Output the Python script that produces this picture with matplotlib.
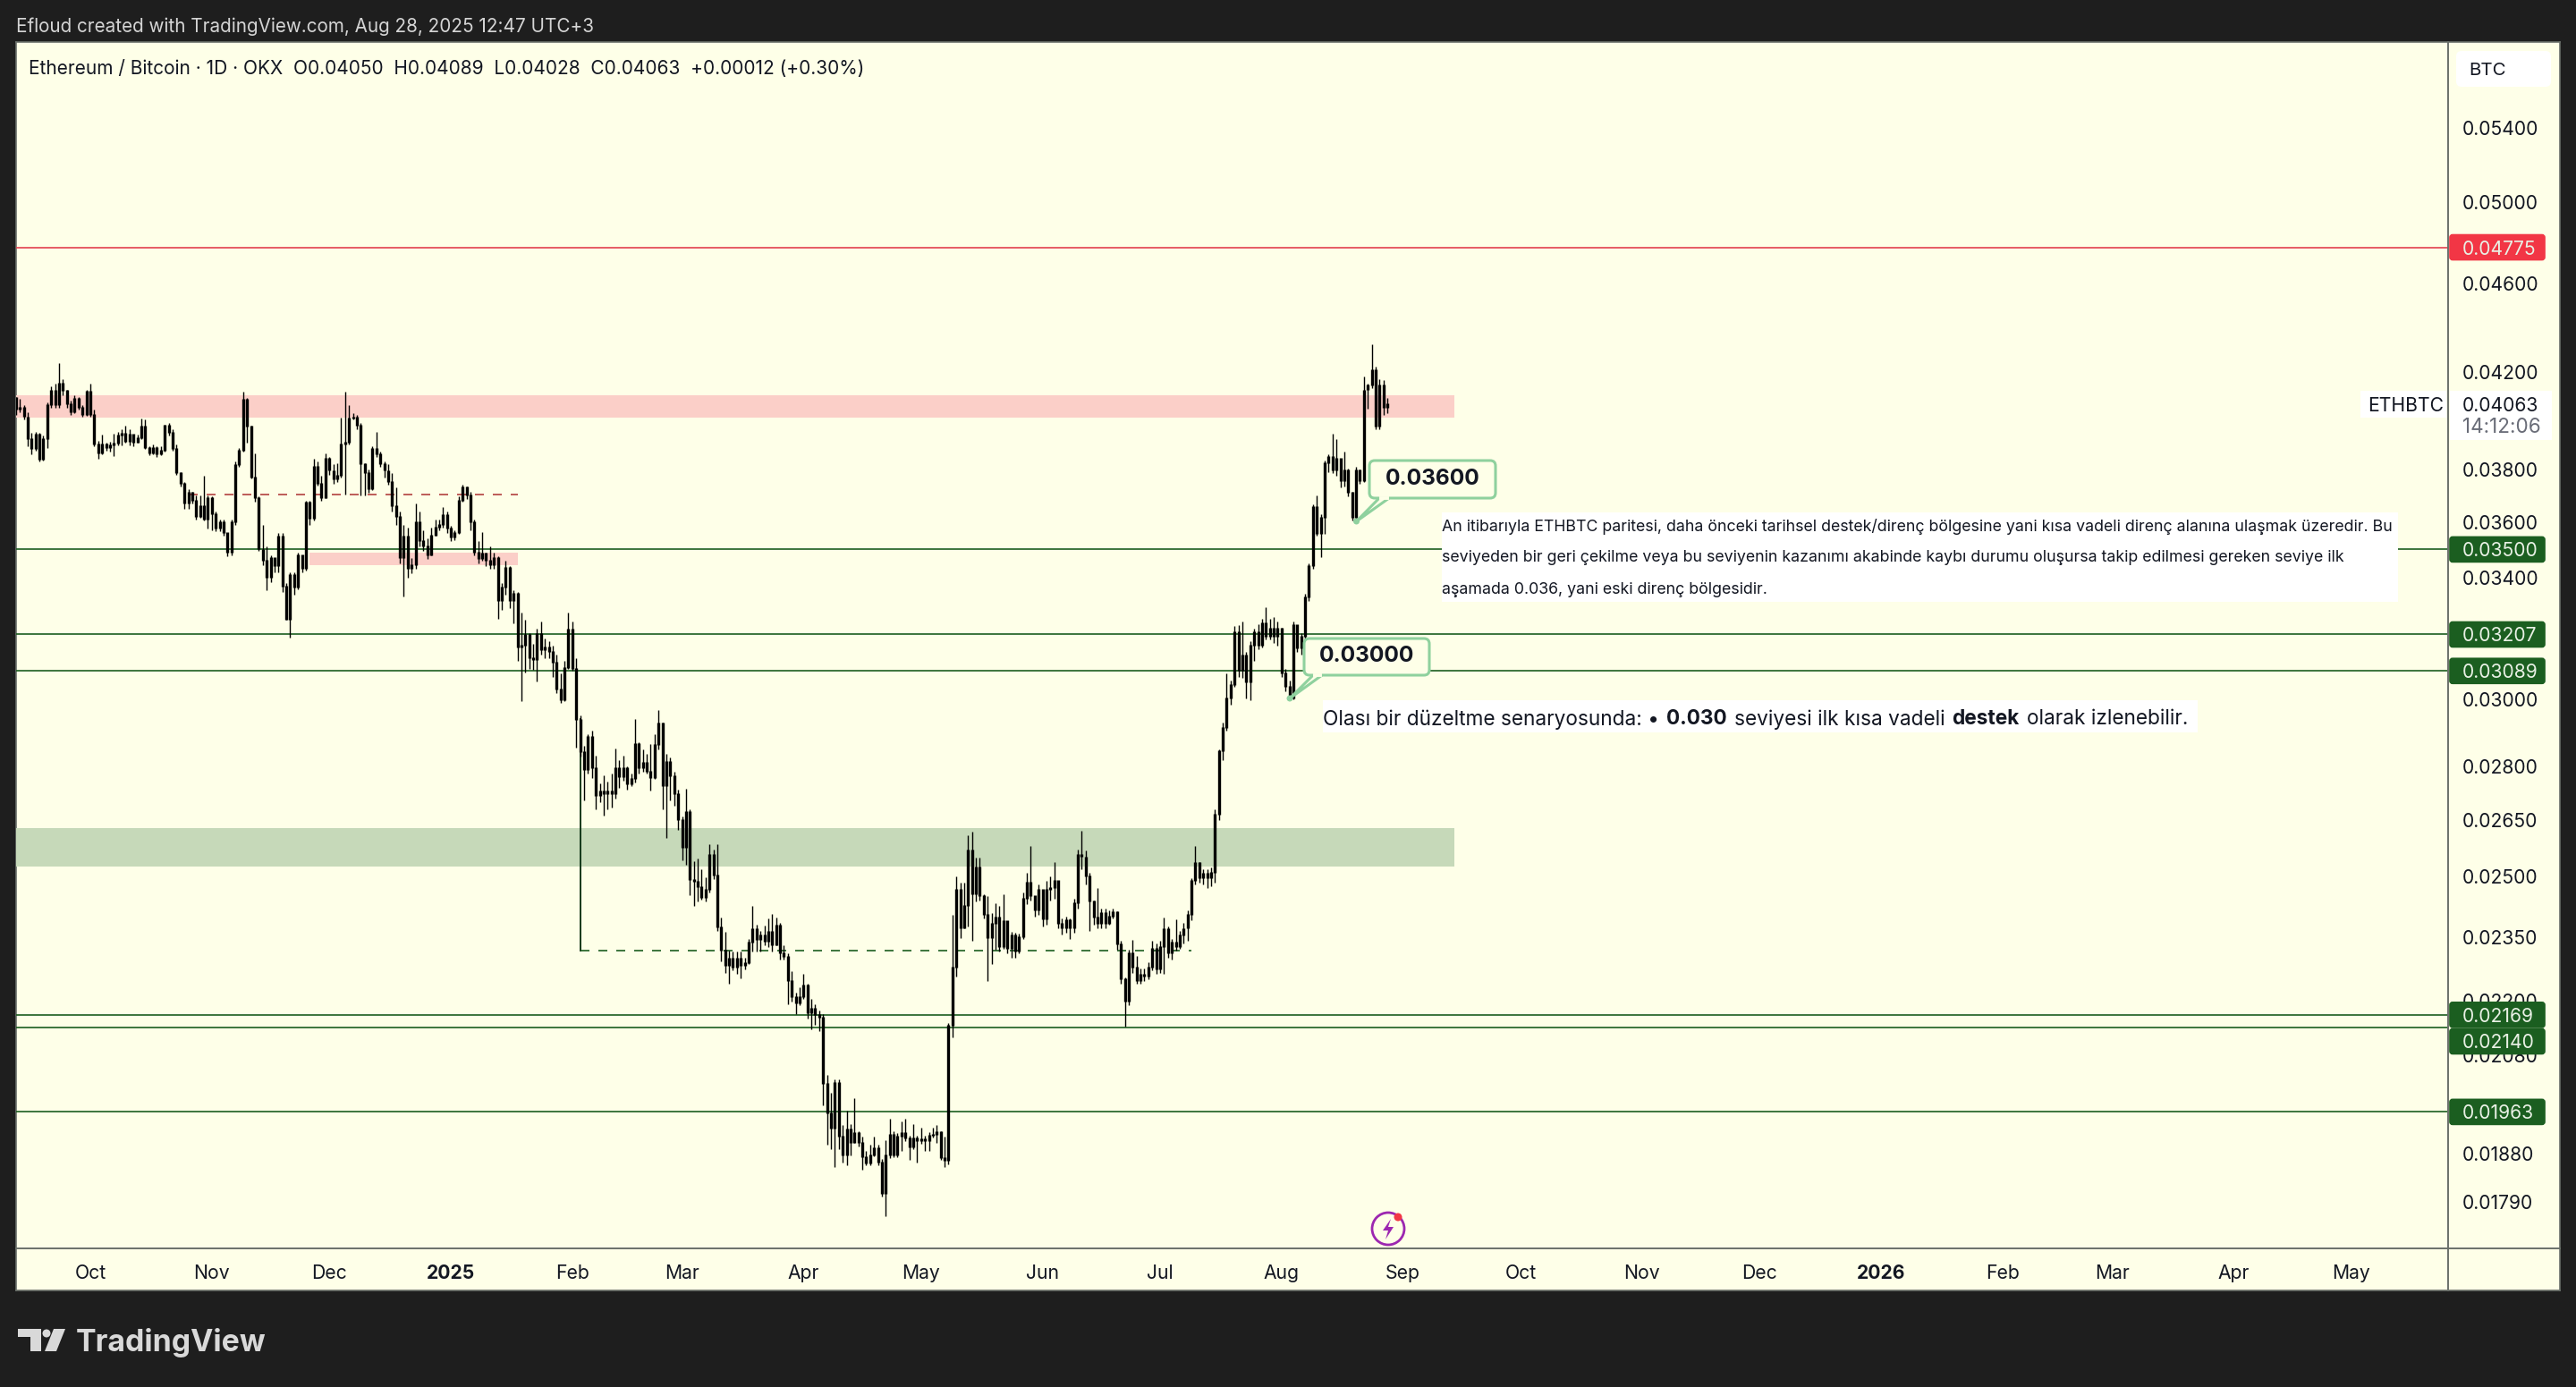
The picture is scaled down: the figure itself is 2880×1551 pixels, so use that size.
import numpy as np
import pandas as pd
import matplotlib
matplotlib.use("Agg")
import matplotlib.pyplot as plt
import matplotlib.dates as mdates
from matplotlib.patches import Rectangle, FancyBboxPatch, Polygon, Circle

plt.rcParams['font.family'] = ['Inter', 'DejaVu Sans']

# daily candles, in 1e-5 BTC, last one is 2025-08-28
first_open = 4090
closes = [
    4040,4050,4010,3920,3880,3940,3840,3920,4060,4120,
    4060,4150,4120,4065,4030,4085,4050,4020,4115,4020,
    3900,3865,3900,3885,3895,3904,3935,3942,3910,3940,
    3905,3925,3970,3885,3865,3885,3860,3875,3975,3945,
    3880,3785,3745,3670,3710,3680,3620,3660,3610,3690,
    3630,3575,3600,3560,3490,3600,3818,3875,4082,3970,3770,
    3690,3500,3460,3400,3470,3440,3547,3370,3255,3410,
    3365,3480,3430,3673,3613,3811,3745,3690,3842,3795,
    3760,3775,3900,3905,4005,4010,3975,3820,3785,
    3725,3880,3860,3820,3795,3750,3660,3620,3470,3547,
    3430,3445,3600,3530,3510,3480,3550,3580,3590,3625,
    3575,3545,3560,3680,3730,3700,3600,3490,3465,3485,
    3460,3445,3470,3320,3365,3435,3320,3345,3165,3170,
    3205,3130,3125,3210,3155,3165,3150,3115,3030,2998,
    3098,3225,3095,2937,2842,2790,2887,2796,2717,2730,
    2722,2730,2722,2796,2770,2796,2750,2765,2866,2796,
    2811,2785,2767,2863,2926,2745,2814,2772,2722,2651,
    2576,2673,2492,2488,2473,2446,2466,2557,2504,2374,
    2318,2281,2298,2277,2298,2281,2288,2336,2369,2342,
    2354,2338,2363,2330,2378,2311,2303,2246,2209,2195,
    2209,2236,2173,2183,2169,2163,2020,1960,1929,2023,
    1914,1877,1929,1902,1921,1902,1874,1861,1877,1892,
    1864,1804,1877,1918,1877,1914,1921,1910,1892,1910,
    1905,1908,1905,1915,1918,1922,1872,1866,2145,2277,
    2466,2370,2427,2569,2455,2524,2450,2404,2347,2382,
    2398,2326,2388,2321,2354,2316,2350,2444,2484,2450,
    2414,2466,2393,2466,2471,2490,2382,2370,2390,2372,
    2432,2557,2551,2501,2438,2398,2382,2409,2382,2400,
    2410,2332,2250,2199,2311,2277,2246,2261,2257,2277,
    2321,2272,2326,2370,2311,2336,2326,2354,2370,2404,
    2490,2537,2497,2509,2497,2510,2665,2845,2913,3003,
    3046,3214,3090,3140,3053,3170,3214,3170,3244,3199,
    3228,3199,3228,3081,3040,3003,3238,3161,3199,3332,
    3440,3657,3557,3616,3825,3851,3797,3842,3753,3797,
    3710,3616,3797,3753,4122,4143,4210,3971,4143,4050,4063,
]
highs = [
    4095,4085,4060,4030,3945,3950,3945,3935,4070,4140,
    4150,4240,4170,4125,4080,4100,4095,4060,4125,4150,
    4040,3915,3940,3905,3910,3942,3950,3960,3975,3960,
    3925,3940,4004,4000,3890,3900,3890,3890,3980,3985,
    3960,3900,3790,3750,3725,3715,3700,3700,3776,3700,
    3695,3640,3610,3610,3560,3610,3830,3885,4116,4090,3975,
    3864,3695,3590,3510,3480,3465,3560,3560,3380,3420,
    3420,3490,3480,3680,3680,3842,3830,3775,3865,3850,
    3820,3825,4008,4116,4060,4025,4020,3985,3825,
    3800,3890,3949,3870,3830,3820,3785,3730,3640,3590,
    3580,3470,3670,3640,3570,3540,3580,3610,3610,3655,
    3640,3585,3570,3695,3740,3735,3715,3610,3530,3564,
    3490,3510,3490,3475,3380,3460,3440,3355,3350,3280,
    3256,3212,3175,3225,3250,3195,3185,3170,3140,3080,
    3122,3280,3250,3130,2950,2860,2895,2905,2832,2752,
    2775,2757,2780,2853,2819,2832,2800,2780,2940,2870,
    2850,2837,2866,2895,2967,2930,2837,2825,2785,2735,
    2660,2737,2680,2540,2548,2520,2499,2585,2570,2585,
    2398,2363,2318,2315,2315,2315,2300,2345,2426,2380,
    2365,2378,2395,2406,2398,2385,2330,2310,2268,2220,
    2232,2262,2240,2205,2192,2178,2170,2040,2002,2030,
    2030,1937,1965,1939,1991,1925,1914,1886,1898,1914,
    1898,1871,1906,1950,1925,1921,1944,1950,1915,1939,
    1915,1932,1915,1922,1932,1936,1925,1914,2150,2404,
    2501,2484,2484,2608,2619,2550,2550,2455,2450,2409,
    2432,2427,2455,2360,2362,2360,2358,2460,2510,2580,
    2450,2480,2425,2490,2500,2537,2470,2395,2400,2395,
    2445,2570,2622,2569,2510,2440,2471,2420,2420,2415,
    2420,2412,2340,2255,2320,2343,2305,2275,2275,2290,
    2340,2335,2340,2398,2375,2345,2393,2365,2385,2415,
    2497,2580,2530,2520,2520,2525,2680,2850,2930,3081,
    3060,3235,3238,3250,3150,3185,3225,3240,3260,3298,
    3260,3265,3250,3205,3095,3060,3250,3238,3210,3345,
    3450,3665,3700,3630,3835,3860,3942,3920,3800,3870,
    3805,3715,3810,3800,4180,4150,4321,4225,4170,4166,4089,
]
lows = [
    4020,4030,4000,3890,3860,3875,3830,3835,3885,4050,
    4050,4050,4100,4050,4020,4025,4040,4010,4015,4010,
    3890,3842,3860,3875,3870,3853,3895,3895,3905,3895,
    3890,3905,3920,3880,3855,3860,3850,3855,3870,3935,
    3875,3780,3735,3650,3650,3670,3610,3615,3605,3575,
    3570,3565,3565,3550,3475,3480,3590,3810,3870,3905,3765,
    3675,3495,3445,3356,3385,3420,3420,3350,3255,3196,
    3340,3360,3420,3425,3590,3605,3738,3680,3695,3780,
    3745,3750,3770,3704,3900,4000,3960,3700,3700,
    3710,3720,3850,3810,3770,3740,3640,3590,3450,3335,
    3400,3415,3430,3510,3495,3465,3500,3555,3570,3580,
    3560,3530,3535,3555,3675,3685,3570,3480,3450,3460,
    3440,3430,3430,3259,3290,3340,3295,3245,3120,2995,
    3085,3095,3093,3056,3140,3130,3130,3070,3020,2990,
    2995,3095,3090,2855,2830,2704,2780,2767,2680,2700,
    2663,2680,2685,2710,2740,2760,2735,2745,2755,2780,
    2785,2780,2732,2765,2850,2680,2602,2704,2690,2624,
    2543,2530,2452,2426,2437,2442,2437,2460,2495,2365,
    2292,2265,2240,2270,2263,2253,2273,2285,2315,2315,
    2315,2330,2325,2315,2330,2296,2296,2192,2199,2171,
    2190,2205,2161,2137,2147,2133,1977,1898,1889,1855,
    1889,1864,1859,1877,1906,1895,1849,1858,1859,1875,
    1859,1800,1764,1872,1874,1874,1886,1905,1868,1890,
    1864,1900,1886,1886,1912,1902,1868,1855,1860,2120,
    2257,2347,2390,2376,2340,2438,2440,2395,2246,2285,
    2320,2315,2321,2311,2300,2300,2310,2345,2430,2440,
    2400,2405,2375,2380,2440,2445,2370,2355,2360,2345,
    2360,2420,2520,2480,2365,2380,2370,2370,2370,2380,
    2395,2320,2240,2143,2190,2265,2240,2240,2245,2250,
    2270,2262,2265,2262,2300,2295,2318,2322,2335,2340,
    2390,2480,2485,2480,2471,2475,2485,2650,2819,2905,
    2985,3040,3070,3068,3003,2998,3120,3160,3165,3190,
    3190,3180,3170,3070,3025,2998,3000,3150,3140,3190,
    3320,3430,3550,3472,3555,3790,3785,3775,3730,3735,
    3695,3605,3600,3745,3750,4045,4130,3960,3960,4020,4028,
]

price_ticks = [0.054, 0.05, 0.046, 0.042, 0.038, 0.036, 0.034, 0.03, 0.028, 0.0265,
               0.025, 0.0235, 0.022, 0.0208, 0.0196, 0.0188, 0.0179]
month_dates = ['2024-10-01', '2024-11-01', '2024-12-01', '2025-01-01', '2025-02-01', '2025-03-01',
               '2025-04-01', '2025-05-01', '2025-06-01', '2025-07-01', '2025-08-01', '2025-09-01',
               '2025-10-01', '2025-11-01', '2025-12-01', '2026-01-01', '2026-02-01', '2026-03-01',
               '2026-04-01', '2026-05-01']
month_labels = ['Oct', 'Nov', 'Dec', '2025', 'Feb', 'Mar', 'Apr', 'May', 'Jun', 'Jul', 'Aug', 'Sep',
                'Oct', 'Nov', 'Dec', '2026', 'Feb', 'Mar', 'Apr', 'May']
green_levels = [0.035, 0.03207, 0.03089, 0.02169, 0.0214, 0.01963]
red_level = 0.04775

BG = '#1e1e1e'
PANE = '#feffe8'
GREEN = '#1b5e20'
CALLOUT = '#8fd19e'
BORDER = '#6a706a'
W, H = 2880, 1551

closes = np.array(closes) / 1e5
highs = np.array(highs) / 1e5
lows = np.array(lows) / 1e5
opens = np.r_[first_open / 1e5, closes[:-1]]
highs = np.maximum(highs, np.maximum(opens, closes))
lows = np.minimum(lows, np.minimum(opens, closes))
dates = mdates.date2num(pd.date_range(end='2025-08-28', periods=len(closes), freq='D'))


def num(day):
    return mdates.date2num(pd.Timestamp(day))


fig = plt.figure(figsize=(W / 200, H / 200), dpi=200, facecolor=BG)

# pane background incl. both axis strips
back = fig.add_axes([18 / W, 1 - 1443 / H, (2862 - 18) / W, (1443 - 47) / H], facecolor=PANE)
back.set_xticks([])
back.set_yticks([])
for s in back.spines.values():
    s.set_color(BORDER)
    s.set_linewidth(0.6)

ax = fig.add_axes([18 / W, 1 - 1396 / H, (2737 - 18) / W, (1396 - 47) / H])
ax.patch.set_alpha(0)
ax.set_yscale('log')
ax.set_ylim(0.01706, 0.05897)
ax.set_xlim(num('2024-10-01') - 18.95, num('2024-10-01') + 601.7)
for side in ['top', 'left']:
    ax.spines[side].set_visible(False)
for side in ['right', 'bottom']:
    ax.spines[side].set_color(BORDER)
    ax.spines[side].set_linewidth(0.7)

# zones
zone_end = (num('2025-09-14') - ax.get_xlim()[0]) / np.ptp(ax.get_xlim())
ax.axhspan(0.04008, 0.04101, xmax=zone_end, color='#fbcfc8', lw=0, zorder=1)
ax.axhspan(0.02527, 0.02629, xmax=zone_end, color='#c6d9b9', lw=0, zorder=1)
ax.fill_between([num('2024-11-26'), num('2025-01-18')], 0.03443, 0.03488, color='#fbcfc8', lw=0, zorder=1)

# levels
ax.axhline(red_level, color='#e2404f', lw=0.6, zorder=2)
for level in green_levels:
    ax.axhline(level, color=GREEN, lw=0.6, zorder=2)
ax.plot([num('2024-10-26'), num('2025-01-18')], [0.03704, 0.03704], color='#b2413f', lw=0.6, ls=(0, (6, 6)), zorder=2)
ax.plot([num('2025-02-03'), num('2025-02-03')], [0.02318, 0.0294], color='#14381a', lw=0.7, zorder=2)
ax.plot([num('2025-02-03'), num('2025-07-09')], [0.02318, 0.02318], color=GREEN, lw=0.6, ls=(0, (6, 6)), zorder=2)

# candles, up and down are both black in the reference
ax.vlines(dates, lows, highs, color='black', lw=0.5, zorder=3)
ax.vlines(dates, np.minimum(opens, closes), np.maximum(opens, closes) * 1.0008, color='black', lw=1.2, zorder=3)

ax.yaxis.tick_right()
ax.minorticks_off()
ax.set_yticks(price_ticks)
ax.set_yticklabels(['%.5f' % p for p in price_ticks], fontsize=7.6, color='#131722')
ax.tick_params(axis='y', which='both', length=0, pad=5.8)
ax.set_xticks([num(d) for d in month_dates])
ax.set_xticklabels(month_labels, fontsize=7.6, color='#131722')
ax.tick_params(axis='x', length=0, pad=6.5)
for lab in ax.get_xticklabels():
    if lab.get_text() in ('2025', '2026'):
        lab.set_fontweight('bold')

# everything that sits on top of the chart, in screen pixels
ov = fig.add_axes([0, 0, 1, 1], zorder=5)
ov.set_xlim(0, W)
ov.set_ylim(H, 0)
ov.axis('off')
ov.patch.set_alpha(0)

ov.plot([2737, 2737], [1396, 1443], color=BORDER, lw=0.7)
ov.plot([2737, 2862], [1396, 1396], color=BORDER, lw=0.7)


def price_y(p):
    return H - ax.transData.transform((dates[0], p))[1]


def badge(p, color, shift=0):
    y = price_y(p) + shift
    ov.add_patch(FancyBboxPatch((2739, y - 14), 106, 28, boxstyle='round,pad=0,rounding_size=3', fc=color, ec=color, lw=0.6))
    ov.text(2753, y, '%.5f' % p, color='#e8f0e4', fontsize=7.6, va='center_baseline')


badge(red_level, '#f23645')
for level in green_levels:
    # the 0.02140 label gets pushed down so it does not sit on 0.02169
    badge(level, GREEN, shift=15 if level == 0.0214 else 0)

# BTC button and last price
ov.add_patch(FancyBboxPatch((2746, 57), 106, 40, boxstyle='round,pad=0,rounding_size=6', fc='white', ec='none'))
ov.text(2760, 76.5, 'BTC', fontsize=7.4, color='#131722', va='center_baseline')
ov.add_patch(Rectangle((2639, 437), 96, 30, fc='white', ec='none'))
ov.text(2647, 451.5, 'ETHBTC', fontsize=7.6, color='#131722', va='center_baseline')
ov.add_patch(Rectangle((2739, 437), 114, 55, fc='white', ec='none'))
ov.text(2753, 451.5, '0.04063', fontsize=7.6, color='#131722', va='center_baseline')
ov.text(2753, 476, '14:12:06', fontsize=8.1, color='#6a6d78', va='center_baseline')

# header, legend, logo
ov.text(18, 28, 'Efloud created with TradingView.com, Aug 28, 2025 12:47 UTC+3', fontsize=7.45, color='#d4d4d4', va='center_baseline')
ov.text(32, 75, 'Ethereum / Bitcoin · 1D · OKX  O0.04050  H0.04089  L0.04028  C0.04063  +0.00012 (+0.30%)',
        fontsize=7.5, color='#131722', va='center_baseline')
ov.text(85, 1498, 'TradingView', fontsize=12.2, fontweight='bold', color='#d9d9d9', va='center_baseline')
ov.add_patch(Polygon([(20, 1486), (46, 1486), (46, 1511), (34, 1511), (34, 1495), (20, 1495)], fc='#d9d9d9', ec='none'))
ov.add_patch(Circle((52, 1491), 4.5, fc='#d9d9d9', ec='none'))
ov.add_patch(Polygon([(60, 1486), (73, 1486), (63, 1511), (50, 1511)], fc='#d9d9d9', ec='none'))

# lightning badge
ov.add_patch(Circle((1552, 1374), 18, fc='none', ec='#9c27b0', lw=1.0))
ov.add_patch(Polygon([(1555, 1363), (1546, 1376), (1552, 1376), (1549, 1386), (1558, 1372), (1552, 1372)], fc='#9c27b0', ec='none'))
ov.add_patch(Circle((1563, 1361), 4.5, fc='#f23645', ec='none'))


def callout(x0, y0, x1, y1, tip, neck, label):
    ov.add_patch(FancyBboxPatch((x0, y0), x1 - x0, y1 - y0, boxstyle='round,pad=0,rounding_size=6', fc=PANE, ec=CALLOUT, lw=1.1))
    ov.add_patch(Polygon([(neck[0], y1), tip, (neck[1], y1)], closed=False, fc=PANE, ec=CALLOUT, lw=1.1))
    ov.plot([neck[0] + 2, neck[1] - 2], [y1, y1], color=PANE, lw=1.4)
    ov.add_patch(Circle(tip, 3.5, fc=CALLOUT, ec='none'))
    ov.text((x0 + x1) / 2, (y0 + y1) / 2 - 3, label, ha='center', va='center_baseline', fontsize=8.8, fontweight='bold', color='#131722')


callout(1531, 515, 1672, 557, (1516.5, 583), (1542, 1553), '0.03600')
callout(1458, 714, 1598, 755, (1442, 781), (1468, 1478), '0.03000')

# comment boxes
ov.add_patch(Rectangle((1612, 573), 1069, 100, fc='white', ec='none'))
note_lines = ['An itibarıyla ETHBTC paritesi, daha önceki tarihsel destek/direnç bölgesine yani kısa vadeli direnç alanına ulaşmak üzeredir. Bu',
              'seviyeden bir geri çekilme veya bu seviyenin kazanımı akabinde kaybı durumu oluşursa takip edilmesi gereken seviye ilk',
              'aşamada 0.036, yani eski direnç bölgesidir.']
for y, line in zip([587, 622, 657], note_lines):
    ov.text(1612, y, line, fontsize=6.4, color='#131722', va='center_baseline')

ov.add_patch(Rectangle((1479, 783), 978, 36, fc='white', ec='none'))
fig.canvas.draw()
renderer = fig.canvas.get_renderer()
x = 1479
for part, weight in [('Olası bir düzeltme senaryosunda: •', 'normal'), ('0.030', 'bold'), ('seviyesi ilk kısa vadeli', 'normal'),
                     ('destek', 'bold'), ('olarak izlenebilir.', 'normal')]:
    t = ov.text(x, 802, part, fontsize=8.15, fontweight=weight, color='#131722', va='center_baseline')
    x = x + t.get_window_extent(renderer).width + 8

fig.savefig('out.png', dpi=200, facecolor=BG)
